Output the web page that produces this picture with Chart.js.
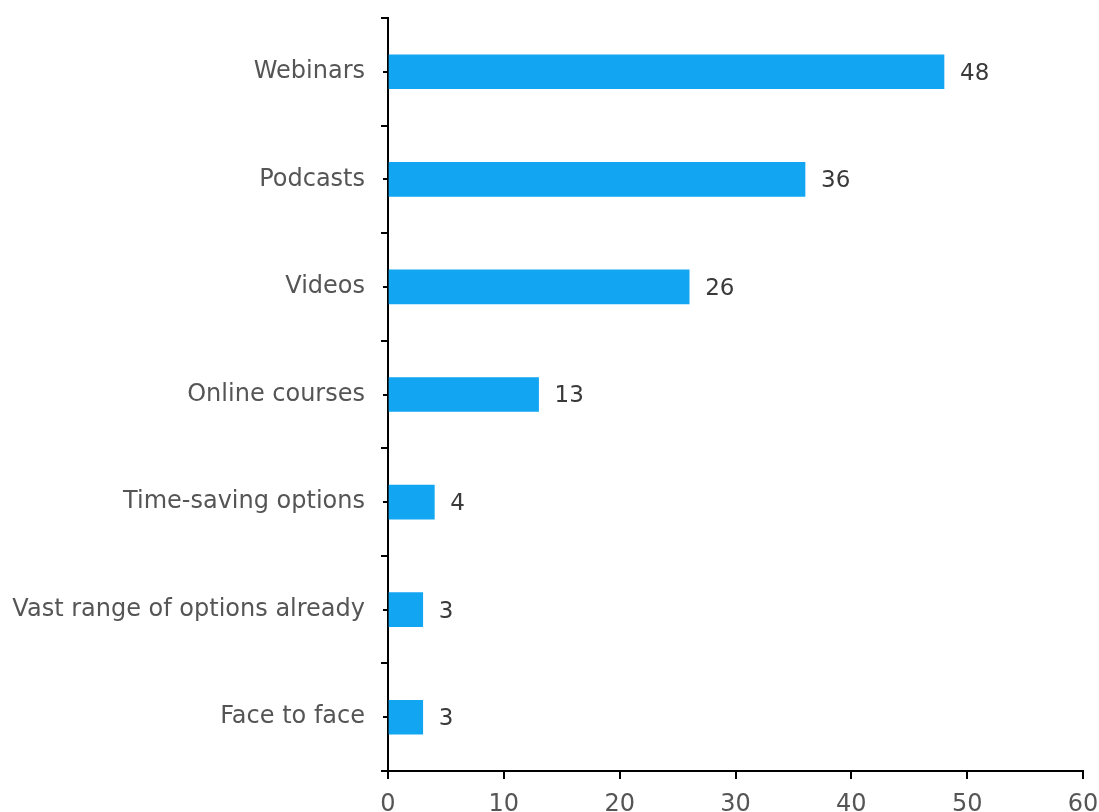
<!DOCTYPE html>
<html>
<head>
<meta charset="utf-8">
<script src="https://cdn.jsdelivr.net/npm/chart.js@4/dist/chart.umd.min.js"></script>
<style>
  html, body { margin: 0; padding: 0; background: #fff; overflow: hidden; }
  #wrap { width: 1099px; height: 840px; }
</style>
</head>
<body>
<div id="wrap"><canvas id="chart" width="1099" height="840"></canvas></div>
<script>
const categories = [
  "Webinars",
  "Podcasts",
  "Videos",
  "Online courses",
  "Time-saving options",
  "Vast range of options already",
  "Face to face"
];
const counts = [48, 36, 26, 13, 4, 3, 3];
const xTicks = [0, 10, 20, 30, 40, 50, 60];

const FONT = "'DejaVu Sans', sans-serif";

// value at the end of each bar
const valueLabels = {
  id: "valueLabels",
  afterDatasetsDraw(chart) {
    const ctx = chart.ctx;
    const meta = chart.getDatasetMeta(0);
    ctx.save();
    ctx.fillStyle = "#3a3a3a";
    ctx.font = "23px " + FONT;
    ctx.textBaseline = "middle";
    ctx.textAlign = "left";
    meta.data.forEach((bar, i) => {
      ctx.fillText(String(counts[i]), bar.x + 16, bar.y + 2);
    });
    ctx.restore();
  }
};

// small ticks at the middle of each category
const centerTicks = {
  id: "centerTicks",
  afterDraw(chart) {
    const ctx = chart.ctx;
    const y = chart.scales.y;
    const left = chart.chartArea.left;
    ctx.save();
    ctx.strokeStyle = "#000";
    ctx.lineWidth = 2;
    categories.forEach((c, i) => {
      const py = Math.round(y.getPixelForValue(i));
      ctx.beginPath();
      ctx.moveTo(left - 5, py);
      ctx.lineTo(left, py);
      ctx.stroke();
    });
    ctx.restore();
  }
};

new Chart(document.getElementById("chart"), {
  type: "bar",
  data: {
    labels: categories,
    datasets: [{
      data: counts,
      backgroundColor: "#12A5F2",
      borderWidth: 0,
      barThickness: 34
    }]
  },
  options: {
    indexAxis: "y",
    responsive: false,
    animation: false,
    layout: { padding: { top: 18, right: 16, left: 0, bottom: 0 } },
    plugins: { legend: { display: false }, tooltip: { enabled: false } },
    scales: {
      x: {
        min: 0,
        max: 60,
        afterBuildTicks(scale) {
          scale.ticks = xTicks.map(v => ({ value: v }));
        },
        afterFit(scale) {
          scale.height = 69;
          scale.paddingLeft = 0;
          scale.paddingRight = 0;
        },
        grid: {
          display: true,
          drawOnChartArea: false,
          drawTicks: true,
          tickLength: 8,
          color: "#000",
          lineWidth: 2
        },
        border: { display: true, color: "#000", width: 2 },
        ticks: {
          color: "#555",
          font: { family: FONT, size: 24 },
          padding: 11,
          maxRotation: 0
        }
      },
      y: {
        offset: true,
        afterFit(scale) {
          scale.width = 388;
          scale.paddingTop = 0;
          scale.paddingBottom = 0;
        },
        grid: {
          display: true,
          offset: true,
          drawOnChartArea: false,
          drawTicks: true,
          tickLength: 7,
          color: "#000",
          lineWidth: 2
        },
        border: { display: true, color: "#000", width: 2 },
        ticks: {
          color: "#555",
          font: { family: FONT, size: 24 },
          padding: 16
        }
      }
    }
  },
  plugins: [valueLabels, centerTicks]
});
</script>
</body>
</html>
